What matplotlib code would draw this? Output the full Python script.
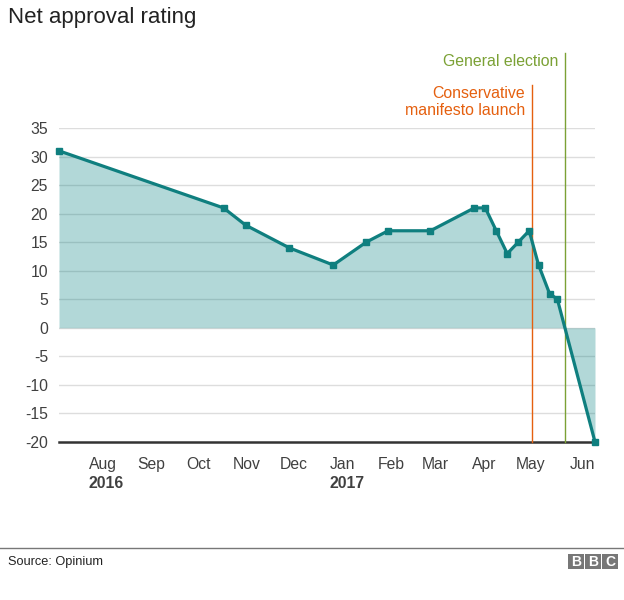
import datetime as dt

import matplotlib.dates as mdates
import matplotlib.pyplot as plt
import matplotlib.transforms as mtransforms
from matplotlib.lines import Line2D
from matplotlib.patches import Rectangle

plt.rcParams.update(
    {
        "font.family": ["Liberation Sans", "DejaVu Sans"],
        "axes.unicode_minus": False,
    }
)

# poll dates (Opinium) and net approval values
poll_dates = [
    "2016-07-20", "2016-11-02", "2016-11-16", "2016-12-14", "2017-01-11",
    "2017-02-01", "2017-02-15", "2017-03-14", "2017-04-11", "2017-04-18",
    "2017-04-25", "2017-05-02", "2017-05-09", "2017-05-16", "2017-05-22",
    "2017-05-29", "2017-06-03", "2017-06-27",
]
net_approval = [31, 21, 18, 14, 11, 15, 17, 17, 21, 21, 17, 13, 15, 17, 11, 6, 5, -20]

month_labels = ["Aug", "Sep", "Oct", "Nov", "Dec", "Jan", "Feb", "Mar", "Apr", "May", "Jun"]
month_ticks = [
    "2016-08-17", "2016-09-17", "2016-10-17", "2016-11-17", "2016-12-17",
    "2017-01-17", "2017-02-17", "2017-03-17", "2017-04-17", "2017-05-17", "2017-06-17",
]
year_labels = {"Aug": "2016", "Jan": "2017"}
y_ticks = [-20, -15, -10, -5, 0, 5, 10, 15, 20, 25, 30, 35]

events = [
    ("2017-05-18", "Conservative\nmanifesto launch", "#e5600f", 85),
    ("2017-06-08", "General election", "#7ba135", 53),
]

TEAL = "#0f7f7f"
TEXT = "#404040"
W, H = 624, 600

dates = [dt.datetime.strptime(d, "%Y-%m-%d") for d in poll_dates]
ticks = [dt.datetime.strptime(d, "%Y-%m-%d") for d in month_ticks]
# last month label sits flush with the end of the axis
ticks[-1] = dates[-1]

fig = plt.figure(figsize=(W / 100, H / 100), dpi=100)
ax = fig.add_axes([59 / W, 1 - 442 / H, (595 - 59) / W, (442 - 128) / H])

ax.fill_between(dates, net_approval, 0, color="#008080", alpha=0.3, linewidth=0, zorder=2)
ax.plot(dates, net_approval, color=TEAL, lw=2.3, marker="s", ms=4.6,
        clip_on=False, zorder=4)

ax.set_xlim(dates[0], dates[-1])
ax.set_ylim(-20, 35)
ax.set_yticks(y_ticks)
ax.set_yticklabels([str(v) for v in y_ticks])
for v in y_ticks[1:]:
    ax.axhline(v, color="#dddddd", lw=1, zorder=1)
ax.axhline(-20, color="#333333", lw=1.8, zorder=3, clip_on=False)

for s in ax.spines.values():
    s.set_visible(False)
ax.tick_params(axis="y", length=0, pad=8, labelsize=11.3, labelcolor=TEXT)
ax.tick_params(axis="x", length=0, pad=11, labelsize=11.3, labelcolor=TEXT)
ax.set_xticks(ticks)
ax.set_xticklabels(month_labels)

# events: vertical lines running above the plot
blend = mtransforms.blended_transform_factory(ax.transData, fig.transFigure)
for d, label, color, top in events:
    x = mdates.date2num(dt.datetime.strptime(d, "%Y-%m-%d"))
    ax.axvline(x, ymin=0, ymax=(442 - top) / (442 - 128), color=color, lw=1,
               clip_on=False, zorder=3)
    ax.annotate(label, xy=(x, 1 - (top + 1) / H), xycoords=blend,
                xytext=(-7, 0), textcoords="offset pixels",
                ha="right", va="top", color=color, fontsize=11.4,
                linespacing=1.2)

# year labels under Aug and Jan, left aligned with the month label
labels = ax.get_xticklabels()
labels[-1].set_horizontalalignment("right")
fig.canvas.draw()
renderer = fig.canvas.get_renderer()
for lab in ax.get_xticklabels():
    txt = lab.get_text()
    if txt in year_labels:
        bb = lab.get_window_extent(renderer)
        fig.text(bb.x0 / W, (bb.y0 - 4) / H, year_labels[txt], ha="left", va="top",
                 fontsize=11.3, fontweight="bold", color=TEXT)

fig.text(8 / W, 1 - 17 / H, "Net approval rating", ha="left", va="center",
         fontsize=16, color="#222222")

# footer
fig.add_artist(Line2D([0, 1], [1 - 548 / H] * 2, color="#777777", lw=1))
fig.text(8 / W, 1 - 562 / H, "Source: Opinium", ha="left", va="center",
         fontsize=9.2, color="#222222")
for i, letter in enumerate("BBC"):
    x0 = 568 + i * 17.2
    fig.add_artist(Rectangle((x0 / W, 1 - 569 / H), 15.6 / W, 14.6 / H,
                             transform=fig.transFigure, color="#777777", lw=0))
    fig.text((x0 + 7.8) / W, 1 - 561.6 / H, letter, ha="center", va="center",
             fontsize=10, fontweight="bold", color="white")

fig.savefig("out.png", dpi=100)
